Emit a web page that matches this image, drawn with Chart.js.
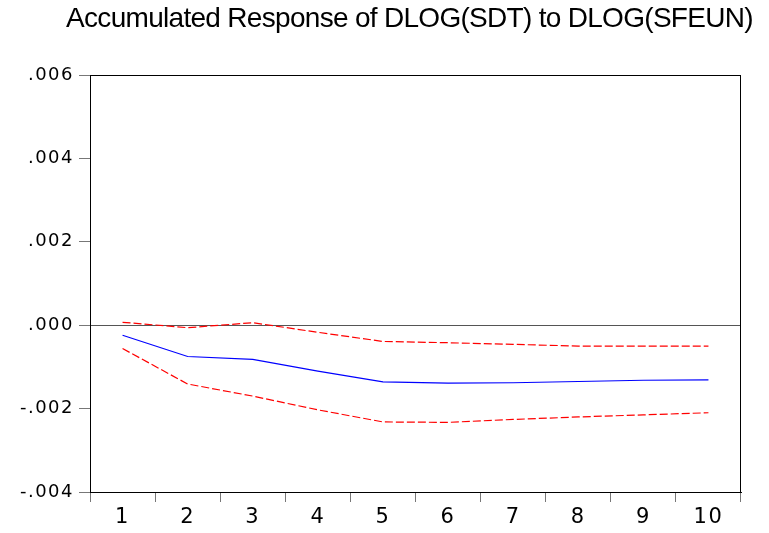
<!DOCTYPE html>
<html>
<head>
<meta charset="utf-8">
<script src="https://cdn.jsdelivr.net/npm/chart.js@4/dist/chart.umd.min.js"></script>
<style>
  html, body { margin: 0; padding: 0; background: #fff; }
  #wrap { width: 769px; height: 533px; }
</style>
</head>
<body>
<div id="wrap"><canvas id="c" width="769" height="533"></canvas></div>
<script>
const titleText = 'Accumulated Response of DLOG(SDT) to DLOG(SFEUN)';
const periods = ['1','2','3','4','5','6','7','8','9','10'];
const response = [-0.00024, -0.00075, -0.00082, -0.0011, -0.00136, -0.00139, -0.00138, -0.00135, -0.00132, -0.00131];
const upperBand = [0.00007, -0.00006, 0.00006, -0.00017, -0.00039, -0.00042, -0.00046, -0.0005, -0.0005, -0.0005];
const lowerBand = [-0.00056, -0.00141, -0.0017, -0.00203, -0.00232, -0.00233, -0.00226, -0.0022, -0.00215, -0.0021];
const yTickValues = [-0.004, -0.002, 0, 0.002, 0.004, 0.006];
const yTickLabels = ['-.004', '-.002', '.000', '.002', '.004', '.006'];

const framePlugin = {
  id: 'frame',
  afterInit(chart) {
    const tb = chart.titleBlock;
    if (tb) {
      const orig = tb.draw.bind(tb);
      tb.draw = function (area) {
        const c = chart.ctx;
        c.save();
        c.letterSpacing = '-0.7px';
        c.translate(39, 0);
        orig(area);
        c.restore();
      };
    }
  },
  beforeDraw(chart) {
    chart.ctx.letterSpacing = '1.5px';
  },
  afterDraw(chart) {
    const { ctx, chartArea: a } = chart;
    ctx.save();
    ctx.letterSpacing = '0px';
    ctx.strokeStyle = '#000';
    ctx.lineWidth = 1;
    ctx.strokeRect(Math.round(a.left) + 0.5, Math.round(a.top) + 0.5,
                   Math.round(a.right - a.left) - 1, Math.round(a.bottom - a.top));
    ctx.restore();
  }
};

new Chart(document.getElementById('c'), {
  type: 'line',
  data: {
    labels: periods,
    datasets: [
      { data: upperBand, borderColor: '#ff0000', borderWidth: 1.2, borderDash: [8, 3], pointRadius: 0, tension: 0, fill: false },
      { data: response, borderColor: '#0000ff', borderWidth: 1.2, pointRadius: 0, tension: 0, fill: false },
      { data: lowerBand, borderColor: '#ff0000', borderWidth: 1.2, borderDash: [8, 3], pointRadius: 0, tension: 0, fill: false }
    ]
  },
  options: {
    responsive: false,
    animation: false,
    events: [],
    layout: { padding: { left: 0, right: 28, top: 0, bottom: 0 } },
    plugins: {
      legend: { display: false },
      tooltip: { enabled: false },
      title: {
        display: true,
        text: titleText,
        color: '#000',
        font: { family: 'Liberation Sans', size: 28, weight: 'normal', lineHeight: 1.2 },
        padding: { top: 2, bottom: 39.4 }
      }
    },
    scales: {
      x: {
        type: 'category',
        offset: true,
        grid: { offset: true, drawOnChartArea: false, drawTicks: true, tickLength: 10, tickColor: '#777', lineWidth: 1 },
        border: { display: true, color: '#000', width: 1 },
        ticks: { color: '#000', font: { family: 'DejaVu Sans', size: 21 }, padding: 3, maxRotation: 0, autoSkip: false },
        afterFit(s) { s.height = 41; }
      },
      y: {
        min: -0.004,
        max: 0.006,
        afterBuildTicks(s) { s.ticks = yTickValues.map(v => ({ value: v })); },
        grid: {
          drawOnChartArea: true,
          drawTicks: true,
          tickLength: 11,
          color: c => (c.tick && Math.abs(c.tick.value) < 1e-9) ? '#555' : 'rgba(0,0,0,0)',
          tickColor: '#777',
          lineWidth: 1
        },
        border: { display: true, color: '#000', width: 1 },
        ticks: {
          color: '#000',
          font: { family: 'DejaVu Sans', size: 18 },
          padding: 5,
          callback: (v) => {
            const i = yTickValues.findIndex(t => Math.abs(t - v) < 1e-9);
            return i >= 0 ? yTickLabels[i] : '';
          }
        },
        afterFit(s) { s.width = 90; }
      }
    }
  },
  plugins: [framePlugin]
});
</script>
</body>
</html>
